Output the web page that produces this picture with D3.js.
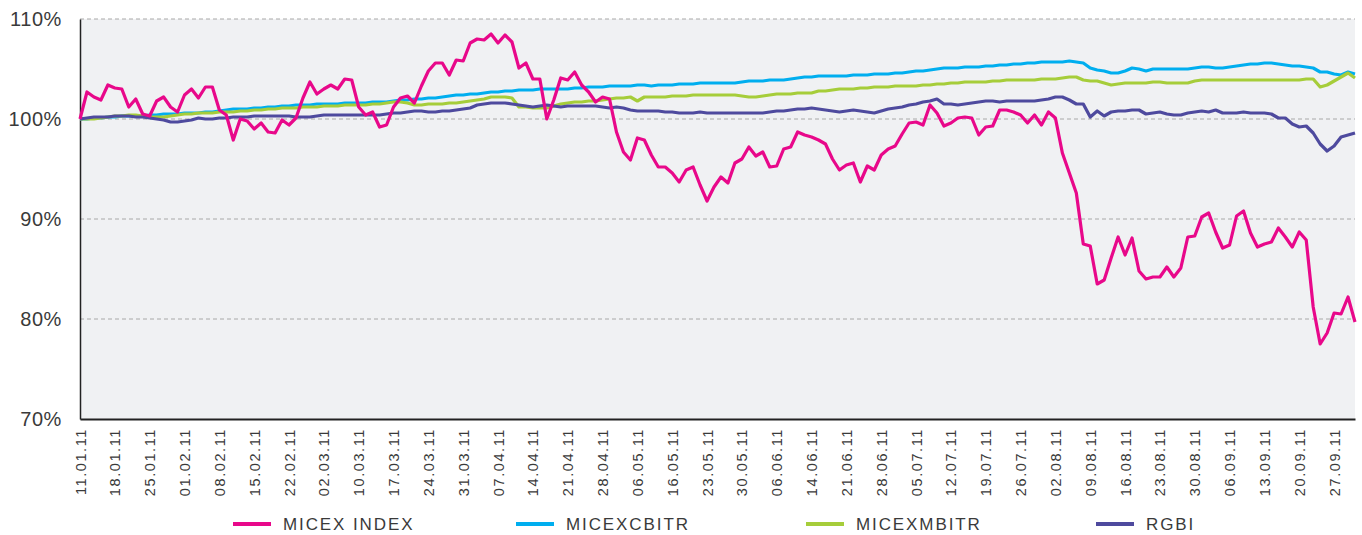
<!DOCTYPE html>
<html><head><meta charset="utf-8">
<script src="https://cdn.jsdelivr.net/npm/d3@7"></script>
<style>
html,body{margin:0;padding:0;background:#fff;}
svg text{font-family:"Liberation Sans",Arial,sans-serif;fill:#3a3a3a;}
</style></head>
<body><svg id="c" width="1362" height="535"></svg>
<script>
const tickLabels = ["11.01.11","18.01.11","25.01.11","01.02.11","08.02.11","15.02.11","22.02.11","02.03.11","10.03.11","17.03.11","24.03.11","31.03.11","07.04.11","14.04.11","21.04.11","28.04.11","06.05.11","16.05.11","23.05.11","30.05.11","06.06.11","14.06.11","21.06.11","28.06.11","05.07.11","12.07.11","19.07.11","26.07.11","02.08.11","09.08.11","16.08.11","23.08.11","30.08.11","06.09.11","13.09.11","20.09.11","27.09.11"];
const yTicks = [70,80,90,100,110];
const seriesNames = ["MICEX INDEX","MICEXCBITR","MICEXMBITR","RGBI"];
const seriesColors = ["#e8088a","#00aeef","#a6cd3a","#4e4a9e"];

const micex = [100,102.7,102.2,101.9,103.4,103.1,103.0,101.2,102.0,100.5,
100.3,101.8,102.2,101.2,100.7,102.4,103.0,102.1,103.2,103.2,
100.9,100.4,97.9,100.0,99.8,99.0,99.6,98.7,98.6,99.9,
99.4,100.1,102.1,103.7,102.5,103.0,103.4,103.0,104.0,103.9,
101.2,100.4,100.7,99.2,99.4,101.2,102.1,102.3,101.6,103.3,
104.8,105.6,105.6,104.4,105.9,105.8,107.6,108.0,107.9,108.5,
107.6,108.4,107.7,105.1,105.6,104.0,104.0,100.0,101.9,104.1,
103.9,104.7,103.4,102.7,101.7,102.2,102.0,98.7,96.7,95.9,
98.1,97.9,96.4,95.2,95.2,94.6,93.7,94.9,95.2,93.4,
91.8,93.2,94.2,93.6,95.6,96.0,97.2,96.3,96.7,95.2,
95.3,97.0,97.2,98.7,98.4,98.2,97.9,97.5,96.0,94.9,
95.4,95.6,93.7,95.3,94.9,96.4,97.0,97.3,98.5,99.6,
99.7,99.4,101.4,100.6,99.3,99.6,100.1,100.2,100.1,98.4,
99.2,99.3,100.9,100.9,100.7,100.4,99.6,100.4,99.4,100.7,
100.1,96.6,94.6,92.6,87.5,87.3,83.5,83.9,86.1,88.2,
86.4,88.1,84.8,84.0,84.2,84.2,85.2,84.2,85.1,88.2,
88.3,90.2,90.6,88.7,87.1,87.4,90.3,90.8,88.6,87.2,
87.5,87.7,89.1,88.2,87.2,88.7,87.9,81.2,77.5,78.6,
80.6,80.5,82.2,79.7];

const micexcbitr = [100.0,100.0,100.1,100.1,100.2,100.2,100.3,100.3,100.3,100.3,
100.4,100.4,100.5,100.5,100.5,100.6,100.6,100.6,100.7,100.7,
100.8,100.9,101.0,101.0,101.0,101.1,101.1,101.2,101.2,101.3,
101.3,101.4,101.4,101.4,101.5,101.5,101.5,101.5,101.6,101.6,
101.6,101.6,101.7,101.7,101.7,101.8,101.9,101.9,102.0,102.0,
102.1,102.1,102.2,102.3,102.4,102.4,102.5,102.5,102.6,102.7,
102.7,102.8,102.8,102.9,102.9,102.9,103.0,103.0,103.0,103.0,
103.0,103.1,103.1,103.2,103.2,103.2,103.3,103.3,103.3,103.3,
103.4,103.4,103.3,103.4,103.4,103.4,103.5,103.5,103.5,103.6,
103.6,103.6,103.6,103.6,103.6,103.7,103.8,103.8,103.8,103.9,
103.9,103.9,104.0,104.1,104.2,104.2,104.3,104.3,104.3,104.3,
104.3,104.4,104.4,104.4,104.5,104.5,104.5,104.6,104.6,104.7,
104.8,104.8,104.9,105.0,105.1,105.1,105.1,105.2,105.2,105.2,
105.3,105.3,105.4,105.4,105.5,105.5,105.6,105.6,105.7,105.7,
105.7,105.7,105.8,105.7,105.6,105.1,104.9,104.8,104.6,104.6,
104.8,105.1,105.0,104.8,105.0,105.0,105.0,105.0,105.0,105.0,
105.1,105.2,105.2,105.1,105.1,105.2,105.3,105.4,105.5,105.5,
105.6,105.6,105.5,105.4,105.3,105.3,105.2,105.1,104.7,104.7,
104.5,104.4,104.7,104.5];

const micexmbitr = [100.0,100.0,100.0,100.1,100.2,100.3,100.3,100.4,100.4,100.3,
100.2,100.2,100.2,100.3,100.4,100.5,100.5,100.6,100.6,100.6,
100.7,100.7,100.7,100.8,100.8,100.9,100.9,101.0,101.0,101.1,
101.1,101.1,101.2,101.2,101.2,101.3,101.3,101.3,101.4,101.4,
101.4,101.4,101.5,101.5,101.6,101.7,101.7,101.6,101.4,101.4,
101.5,101.5,101.5,101.6,101.6,101.7,101.8,101.9,102.0,102.2,
102.2,102.2,102.1,101.2,101.2,101.1,101.1,101.1,101.3,101.5,
101.6,101.7,101.7,101.8,101.8,101.9,102.0,102.1,102.1,102.2,
101.8,102.2,102.2,102.2,102.2,102.3,102.3,102.3,102.4,102.4,
102.4,102.4,102.4,102.4,102.4,102.3,102.2,102.2,102.3,102.4,
102.5,102.5,102.5,102.6,102.6,102.6,102.8,102.8,102.9,103.0,
103.0,103.0,103.1,103.1,103.2,103.2,103.2,103.3,103.3,103.3,
103.3,103.4,103.4,103.5,103.5,103.6,103.6,103.7,103.7,103.7,
103.7,103.8,103.8,103.9,103.9,103.9,103.9,103.9,104.0,104.0,
104.0,104.1,104.2,104.2,103.9,103.8,103.8,103.6,103.4,103.5,
103.6,103.6,103.6,103.6,103.7,103.7,103.6,103.6,103.6,103.6,
103.8,103.9,103.9,103.9,103.9,103.9,103.9,103.9,103.9,103.9,
103.9,103.9,103.9,103.9,103.9,103.9,104.0,104.0,103.2,103.4,
103.8,104.2,104.6,104.1];

const rgbi = [100.0,100.1,100.2,100.2,100.2,100.3,100.3,100.3,100.2,100.2,
100.1,100.0,99.9,99.7,99.7,99.8,99.9,100.1,100.0,100.0,
100.1,100.1,100.2,100.2,100.2,100.3,100.3,100.3,100.3,100.3,
100.3,100.2,100.2,100.2,100.3,100.4,100.4,100.4,100.4,100.4,
100.4,100.4,100.4,100.4,100.5,100.6,100.6,100.7,100.8,100.8,
100.7,100.7,100.8,100.8,100.9,101.0,101.1,101.4,101.5,101.6,
101.6,101.6,101.5,101.4,101.3,101.2,101.3,101.4,101.3,101.2,
101.3,101.3,101.3,101.3,101.3,101.2,101.1,101.2,101.1,100.9,
100.8,100.8,100.8,100.8,100.7,100.7,100.6,100.6,100.6,100.7,
100.6,100.6,100.6,100.6,100.6,100.6,100.6,100.6,100.6,100.7,
100.8,100.8,100.9,101.0,101.0,101.1,101.0,100.9,100.8,100.7,
100.8,100.9,100.8,100.7,100.6,100.8,101.0,101.1,101.2,101.4,
101.5,101.7,101.8,102.0,101.5,101.5,101.4,101.5,101.6,101.7,
101.8,101.8,101.7,101.8,101.8,101.8,101.8,101.8,101.9,102.0,
102.2,102.2,101.9,101.5,101.5,100.2,100.8,100.3,100.7,100.8,
100.8,100.9,100.9,100.5,100.6,100.7,100.5,100.4,100.4,100.6,
100.7,100.8,100.7,100.9,100.6,100.6,100.6,100.7,100.6,100.6,
100.6,100.5,100.1,100.1,99.5,99.2,99.3,98.6,97.5,96.8,
97.3,98.2,98.4,98.6];

const allSeries = [micex, micexcbitr, micexmbitr, rgbi];
const tickEvery = 5;

(function () {
const svg = d3.select("#c");
const mLeft = 80, mRight = 1355, mTop = 19, mBottom = 419;
const n = micex.length;
const x = d3.scaleLinear().domain([0, n - 1]).range([mLeft, mRight]);
const y = d3.scaleLinear().domain([70, 110]).range([mBottom, mTop]);

svg.append("rect").attr("x", mLeft).attr("y", mTop).attr("width", mRight - mLeft).attr("height", mBottom - mTop).attr("fill", "#f0f1f3");

svg.append("g").selectAll("line").data(yTicks.filter(d => d > 70)).join("line")
  .attr("x1", mLeft).attr("x2", mRight).attr("y1", d => y(d)).attr("y2", d => y(d))
  .attr("stroke", "#a8a8a8").attr("stroke-width", 1).attr("stroke-dasharray", "4,3");

const yAxis = d3.axisLeft(y).tickValues(yTicks).tickFormat(d => d + "%").tickSize(0).tickPadding(18);
const gy = svg.append("g").attr("transform", `translate(${mLeft},0)`).call(yAxis);
gy.select(".domain").attr("stroke", "#222").attr("stroke-width", 1.5);
gy.selectAll("text").attr("font-size", 20).attr("letter-spacing", "0.6px").attr("fill", "#3a3a3a").style("font-family", "Liberation Sans, Arial, sans-serif");

const tickIdx = tickLabels.map((d, i) => i * tickEvery);
const xAxis = d3.axisBottom(x).tickValues(tickIdx).tickFormat((d, i) => tickLabels[i]).tickSize(0).tickPadding(0);
const gx = svg.append("g").attr("transform", `translate(0,${mBottom})`).call(xAxis);
gx.select(".domain").attr("stroke", "#222").attr("stroke-width", 2);
gx.selectAll("text").attr("font-size", 14.5).attr("letter-spacing", "1.6px")
  .attr("fill", "#3a3a3a").style("font-family", "Liberation Sans, Arial, sans-serif")
  .attr("text-anchor", "end").attr("dy", "0.35em").attr("dx", 0)
  .attr("transform", "translate(0,9) rotate(-90)").attr("y", 0).attr("x", 0);

const line = d3.line().x((d, i) => x(i)).y(d => y(d));
[1, 2, 3, 0].forEach(k => {
  svg.append("path").datum(allSeries[k]).attr("d", line).attr("fill", "none")
    .attr("stroke", seriesColors[k]).attr("stroke-width", 3.2).attr("stroke-linejoin", "round");
});

const legX = [233, 516, 806, 1096];
const lg = svg.append("g");
seriesNames.forEach((name, k) => {
  lg.append("line").attr("x1", legX[k]).attr("x2", legX[k] + 38).attr("y1", 524).attr("y2", 524)
    .attr("stroke", seriesColors[k]).attr("stroke-width", 4);
  lg.append("text").attr("x", legX[k] + 50).attr("y", 530).attr("font-size", 17)
    .attr("letter-spacing", "1.9px").text(name);
});
})();
</script></body></html>
